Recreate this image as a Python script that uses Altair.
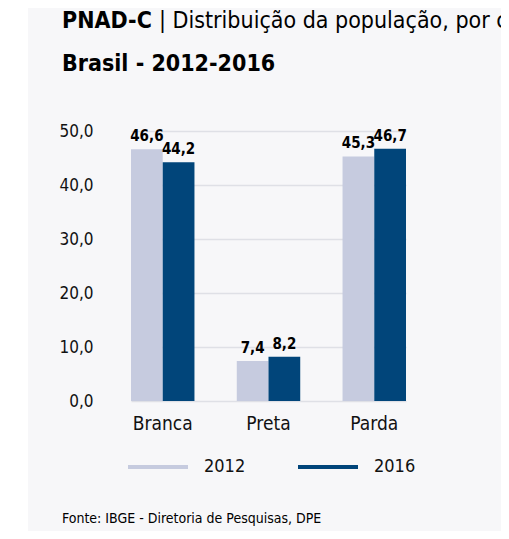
import altair as alt
import pandas as pd

categorias = ["Branca", "Preta", "Parda"]
anos = ["2012", "2016"]
valores_2012 = [46.6, 7.4, 45.3]
valores_2016 = [44.2, 8.2, 46.7]
y_ticks = [0, 10, 20, 30, 40, 50]
cores = ["#c6cbdf", "#01457a"]

titulo_a = "PNAD-C"
titulo_b = "| Distribuição da população, por cor ou raça"
titulo_c = "Brasil - 2012-2016"
fonte = "Fonte: IBGE - Diretoria de Pesquisas, DPE"

rows = []
for c, a, b in zip(categorias, valores_2012, valores_2016):
    rows.append({"cor": c, "ano": anos[0], "valor": a})
    rows.append({"cor": c, "ano": anos[1], "valor": b})
df = pd.DataFrame(rows)

FONT = "DejaVu Sans Condensed"
W, H = 378, 270

leg = alt.Legend(title=None, orient="none", legendX=18, legendY=304,
                 direction="horizontal", symbolType="stroke",
                 symbolSize=3600, symbolStrokeWidth=4,
                 labelFontSize=18, labelFont=FONT, labelColor="#111111",
                 labelOffset=14, columnPadding=44, padding=0)

base = alt.Chart(df).encode(
    x=alt.X(
        "cor:N", sort=categorias,
        scale=alt.Scale(range=[23, 298], paddingInner=0.4, paddingOuter=0),
        axis=alt.Axis(title=None, labelAngle=0, domain=False, ticks=False,
                      labelFontSize=19, labelColor="#111111", labelFont=FONT,
                      labelPadding=13, grid=False),
    ),
    xOffset=alt.XOffset("ano:N", sort=anos,
                        scale=alt.Scale(paddingInner=0, paddingOuter=0)),
    y=alt.Y(
        "valor:Q", scale=alt.Scale(domain=[0, 50]),
        axis=alt.Axis(values=y_ticks, title=None, domain=False, ticks=False,
                      labelExpr="replace(format(datum.value, '.1f'), '.', ',')",
                      gridColor="#dfe0e6", gridWidth=1.5, labelFontSize=17,
                      labelFont=FONT, labelColor="#111111", labelPadding=15),
    ),
)

bars = base.mark_bar(strokeWidth=0.01).encode(
    color=alt.Color("ano:N", scale=alt.Scale(domain=anos, range=cores), legend=leg),
    stroke=alt.Stroke("ano:N", scale=alt.Scale(domain=anos, range=cores), legend=leg),
)

labels = base.transform_calculate(
    rot="replace(format(datum.valor, '.1f'), '.', ',')"
).mark_text(baseline="alphabetic", dy=-8, fontWeight="bold", fontSize=15,
            font=FONT, color="#000000").encode(text="rot:N")

white_strip = alt.Chart(pd.DataFrame({"k": [0]})).mark_rect(color="white").encode(
    x=alt.value(-110), x2=alt.value(-80), y=alt.value(-140), y2=alt.value(420)
)

def txt(s, xv, yv, size, weight="normal"):
    return alt.Chart(pd.DataFrame({"t": [s]})).mark_text(
        align="left", baseline="alphabetic", fontSize=size, fontWeight=weight,
        font=FONT, color="#000000"
    ).encode(text="t:N", x=alt.value(xv), y=alt.value(yv))

t1 = txt(titulo_a, -46, -103, 23, "bold")
t2 = txt(titulo_b, 51, -103, 23)
t3 = txt(titulo_c, -46, -60, 23, "bold")
t4 = txt(fonte, -46, 392, 14)

chart = alt.layer(white_strip, bars, labels, t1, t2, t3, t4).properties(
    width=W, height=H,
    background="#f7f7f9",
    padding={"left": 100, "top": 123, "right": 15, "bottom": 130},
    autosize=alt.AutoSizeParams(type="none"),
).configure_view(stroke=None)

chart.save("out.html", embed_options={"renderer": "svg", "actions": False})
